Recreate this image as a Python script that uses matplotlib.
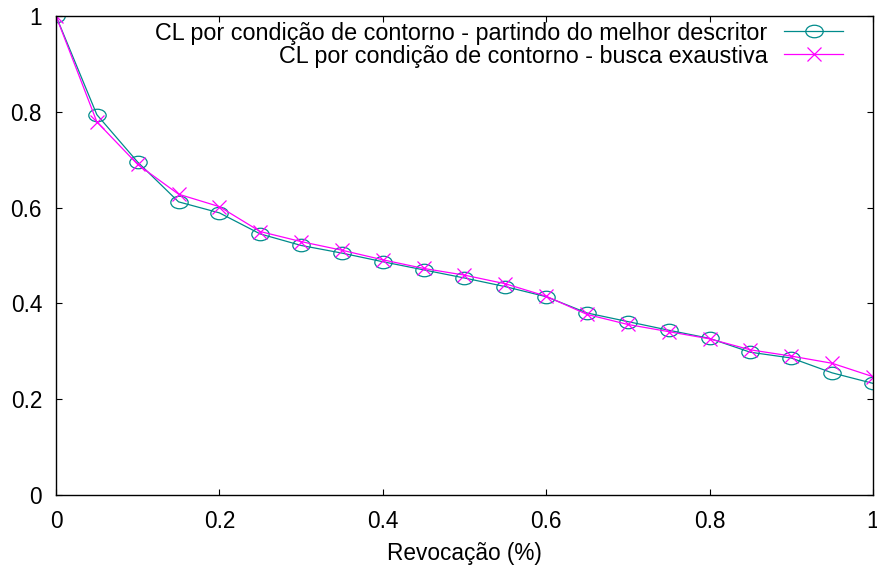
import matplotlib.pyplot as plt
import matplotlib.path as mpath
import numpy as np

plt.rcParams['font.family'] = ['Liberation Sans', 'DejaVu Sans']
plt.rcParams['font.size'] = 16.3

recall = [0.0, 0.05, 0.1, 0.15, 0.2, 0.25, 0.3, 0.35, 0.4, 0.45, 0.5,
          0.55, 0.6, 0.65, 0.7, 0.75, 0.8, 0.85, 0.9, 0.95, 1.0]
melhor = [1.0, 0.794, 0.695, 0.612, 0.589, 0.545, 0.521, 0.505, 0.487, 0.470, 0.453,
          0.435, 0.414, 0.380, 0.362, 0.344, 0.327, 0.298, 0.286, 0.255, 0.233]
exaustiva = [1.0, 0.779, 0.690, 0.628, 0.602, 0.550, 0.529, 0.511, 0.491, 0.473, 0.459,
             0.441, 0.415, 0.377, 0.356, 0.341, 0.326, 0.303, 0.290, 0.275, 0.247]

labels = ['CL por condição de contorno - partindo do melhor descritor',
          'CL por condição de contorno - busca exaustiva']
ticks = [0, 0.2, 0.4, 0.6, 0.8, 1]
tick_labels = ['0', '0.2', '0.4', '0.6', '0.8', '1']

# gnuplot draws its circles a bit squashed at this size
circ = mpath.Path.unit_circle()
ellipse = mpath.Path(circ.vertices * [1, 0.72], circ.codes)

fig = plt.figure(figsize=(8.78, 5.67), dpi=100)
ax = fig.add_axes([56 / 878, 72 / 567, 817 / 878, 479 / 567])

ax.plot(recall, melhor, color='#008b8b', lw=0.9, marker=ellipse, markersize=12.5,
        markerfacecolor='none', markeredgecolor='#008b8b', markeredgewidth=0.9,
        label=labels[0])
ax.plot(recall, exaustiva, color='#ff00ff', lw=0.9, marker='x', markersize=10.5,
        markeredgewidth=0.9, label=labels[1])

ax.set_xlim(0, 1)
ax.set_ylim(0, 1)
ax.set_xticks(ticks, tick_labels)
ax.set_yticks(ticks, tick_labels)
ax.tick_params(direction='in', length=4, width=0.8, top=True, right=True, pad=10)
ax.tick_params(axis='x', pad=11)
for s in ax.spines.values():
    s.set_linewidth(1.0)
ax.set_xlabel('Revocação (%)', labelpad=6)

ax.legend(loc='upper right', bbox_to_anchor=(0.963, 0.9885), frameon=False,
          markerfirst=False, handlelength=2.5, handletextpad=0.73,
          labelspacing=0.0, borderaxespad=0, borderpad=0, fontsize=16.8)

plt.savefig('out.png', dpi=100)
